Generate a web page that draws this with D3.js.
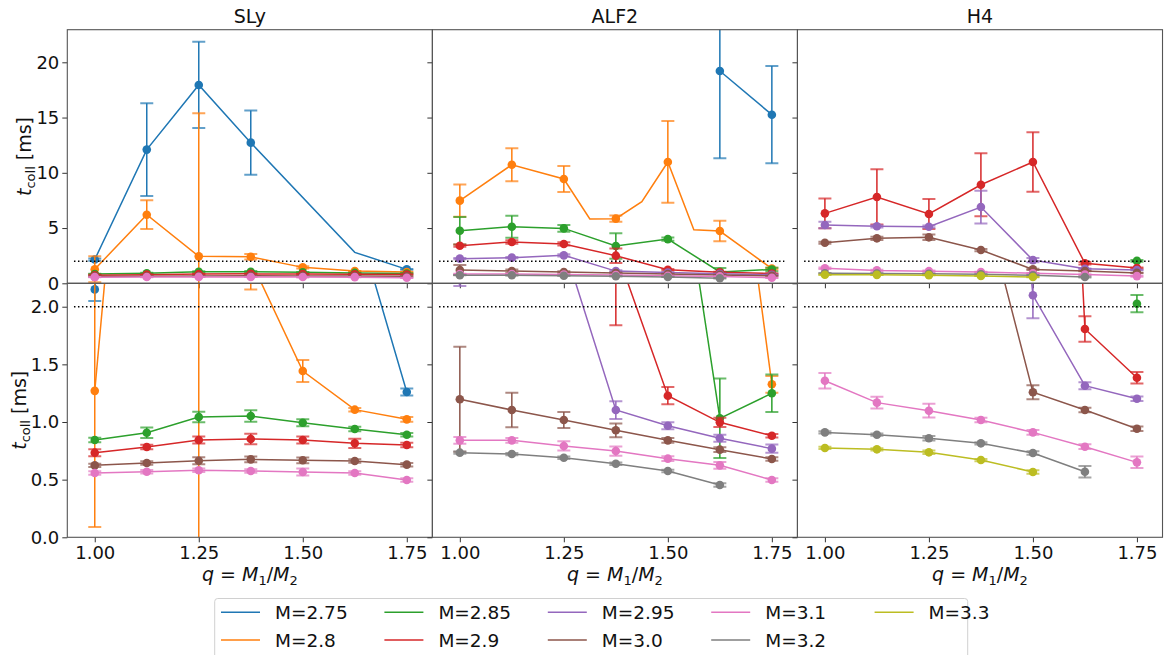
<!DOCTYPE html>
<html><head><meta charset="utf-8">
<script src="https://cdn.jsdelivr.net/npm/d3@7"></script>
<style>
html,body{margin:0;padding:0;background:#fff;}
svg{display:block;font-family:"DejaVu Sans",sans-serif;}
</style></head>
<body><svg id="chart" width="1164" height="655"></svg>
<script>
// ---------------- data ----------------
const Q = [1.0, 1.125, 1.25, 1.375, 1.5, 1.625, 1.75];
const masses = ["2.75", "2.8", "2.85", "2.9", "2.95", "3.0", "3.1", "3.2", "3.3"];
const colors = ["#1f77b4", "#ff7f0e", "#2ca02c", "#d62728", "#9467bd", "#8c564b", "#e377c2", "#7f7f7f", "#bcbd22"];
const eosNames = ["SLy", "ALF2", "H4"];
const xTicks = [1.0, 1.25, 1.5, 1.75];
const yTicksTop = [0, 5, 10, 15, 20];
const yTicksBottom = [0, 0.5, 1.0, 1.5, 2.0];
const threshold = 2.0;
const thresholdRange = [0.95, 1.78];

// each series: [mass, q values, t_coll values, error (null = no marker/error)]
const SLy = [
  ["2.75", [1.0, 1.125, 1.25, 1.375, 1.625, 1.75], [2.15, 12.1, 17.95, 12.73, 2.8, 1.26], [0.1, 4.2, 3.9, 2.9, null, 0.03]],
  ["2.8", Q, [1.27, 6.21, 2.44, 2.4, 1.442, 1.107, 1.023], [1.18, 1.3, 12.94, 0.25, 0.095, 0.015, 0.02]],
  ["2.85", Q, [0.844, 0.907, 1.043, 1.052, 0.994, 0.939, 0.89], [0.02, 0.045, 0.045, 0.05, 0.03, 0.02, 0.015]],
  ["2.9", Q, [0.734, 0.783, 0.844, 0.853, 0.844, 0.815, 0.80], [0.03, 0.02, 0.03, 0.045, 0.03, 0.04, 0.02]],
  ["3.0", Q, [0.624, 0.644, 0.664, 0.676, 0.668, 0.662, 0.63], [0.015, 0.015, 0.03, 0.025, 0.025, 0.015, 0.015]],
  ["3.1", Q, [0.558, 0.569, 0.581, 0.575, 0.566, 0.558, 0.497], [0.015, 0.015, 0.015, 0.015, 0.03, 0.015, 0.015]]
];
const ALF2 = [
  ["2.75", [1.625, 1.75], [19.21, 15.26], [7.9, 4.4]],
  ["2.8", [1.0, 1.125, 1.25, 1.3125, 1.375, 1.4375, 1.5, 1.5625, 1.625, 1.75],
          [7.48, 10.73, 9.44, 5.82, 5.85, 7.39, 10.98, 4.85, 4.73, 1.327],
          [1.45, 1.5, 1.17, null, 0.28, null, 3.7, null, 0.93, 0.073]],
  ["2.85", Q, [4.76, 5.12, 4.97, 3.38, 4.0, 1.032, 1.249], [1.25, 1.0, 0.3, 1.16, 0.15, 0.345, 0.163]],
  ["2.9", Q, [3.4, 3.74, 3.56, 2.5, 1.228, 0.997, 0.881], [0.1, 0.15, 0.15, 0.66, 0.075, 0.04, 0.015]],
  ["2.95", Q, [2.23, 2.32, 2.53, 1.104, 0.968, 0.859, 0.769], [0.05, 0.05, 0.1, 0.077, 0.03, 0.03, 0.035]],
  ["3.0", Q, [1.197, 1.104, 1.017, 0.928, 0.841, 0.76, 0.679], [0.456, 0.15, 0.07, 0.06, 0.02, 0.02, 0.015]],
  ["3.1", Q, [0.841, 0.841, 0.792, 0.748, 0.682, 0.624, 0.497], [0.03, 0.02, 0.04, 0.04, 0.02, 0.03, 0.015]],
  ["3.2", Q.slice(0, 6), [0.734, 0.722, 0.69, 0.638, 0.575, 0.454], [0.01, 0.01, 0.01, 0.01, 0.01, 0.015]]
];
const H4 = [
  ["2.85", [1.75], [2.026], [0.075]],
  ["2.9", Q, [6.33, 7.81, 6.27, 8.92, 10.98, 1.807, 1.384], [1.35, 2.5, 1.35, 2.85, 2.7, 0.11, 0.05]],
  ["2.95", Q, [5.28, 5.16, 5.12, 6.9, 2.099, 1.315, 1.202], [0.3, 0.1, 0.1, 1.48, 0.2, 0.03, 0.02]],
  ["3.0", Q, [3.67, 4.07, 4.16, 3.01, 1.258, 1.104, 0.942], [0.1, 0.15, 0.25, 0.1, 0.06, 0.02, 0.02]],
  ["3.1", Q, [1.358, 1.168, 1.098, 1.017, 0.91, 0.786, 0.65], [0.067, 0.05, 0.06, 0.02, 0.02, 0.02, 0.05]],
  ["3.2", Q.slice(0, 6), [0.91, 0.89, 0.859, 0.815, 0.731, 0.569], [0.01, 0.01, 0.02, 0.01, 0.015, 0.05]],
  ["3.3", Q.slice(0, 5), [0.775, 0.763, 0.737, 0.67, 0.566], [0.01, 0.01, 0.015, 0.01, 0.015]]
];
const allEos = [SLy, ALF2, H4];

// ---------------- layout ----------------
const svg = d3.select("#chart");
const panelLeft = 67.3, panelW = 365.07;
const rows = [
  {top: 29.7, bottom: 283.3, domain: [0, 22.95], ticks: yTicksTop, fmt: d3.format("d"), labelX: 30.5},
  {top: 283.3, bottom: 537.3, domain: [0, 2.203], ticks: yTicksBottom, fmt: d3.format(".1f"), labelX: 26}
];
const xDomain = [0.934, 1.8115];
const colorOf = m => colors[masses.indexOf(m)];
const FS = 18;

rows.forEach((row, r) => {
  eosNames.forEach((name, c) => {
    const x0 = panelLeft + c * panelW;
    const x = d3.scaleLinear().domain(xDomain).range([x0, x0 + panelW]);
    const y = d3.scaleLinear().domain(row.domain).range([row.bottom, row.top]);
    const id = `clip-${r}-${c}`;
    svg.append("clipPath").attr("id", id).append("rect")
      .attr("x", x0).attr("y", row.top).attr("width", panelW).attr("height", row.bottom - row.top);
    const g = svg.append("g").attr("clip-path", `url(#${id})`);

    allEos[c].forEach(([m, qs, ts, es]) => {
      const col = colorOf(m);
      const pts = qs.map((q, i) => ({q, t: ts[i], e: es[i]}));
      g.append("path").datum(pts)
        .attr("d", d3.line().x(d => x(d.q)).y(d => y(d.t)))
        .attr("fill", "none").attr("stroke", col).attr("stroke-width", 1.5);
      const ep = pts.filter(d => d.e !== null);
      g.selectAll(null).data(ep).enter().append("line")
        .attr("x1", d => x(d.q)).attr("x2", d => x(d.q))
        .attr("y1", d => y(d.t - d.e)).attr("y2", d => y(d.t + d.e))
        .attr("stroke", col).attr("stroke-width", 1.5);
      [-1, 1].forEach(s => {
        g.selectAll(null).data(ep).enter().append("line")
          .attr("x1", d => x(d.q) - 6.5).attr("x2", d => x(d.q) + 6.5)
          .attr("y1", d => y(d.t + s * d.e)).attr("y2", d => y(d.t + s * d.e))
          .attr("stroke", col).attr("stroke-width", 2).attr("stroke-opacity", 0.7);
      });
      g.selectAll(null).data(ep).enter().append("circle")
        .attr("cx", d => x(d.q)).attr("cy", d => y(d.t)).attr("r", 4.3)
        .attr("fill", col);
    });

    // threshold dotted line
    g.append("line")
      .attr("x1", x(thresholdRange[0])).attr("x2", x(thresholdRange[1]))
      .attr("y1", y(threshold)).attr("y2", y(threshold))
      .attr("stroke", "#000").attr("stroke-width", 1.5).attr("stroke-dasharray", "1.5,2.5");

    // axes
    const ya = svg.append("g").attr("transform", `translate(${x0},0)`)
      .call(d3.axisLeft(y).tickValues(row.ticks).tickSize(5).tickPadding(3)
        .tickFormat(c === 0 ? row.fmt : () => ""));
    const xa = svg.append("g").attr("transform", `translate(0,${row.bottom})`)
      .call(d3.axisBottom(x).tickValues(xTicks).tickSize(5).tickPadding(4)
        .tickFormat(r === 1 ? d3.format(".2f") : () => ""));
    [ya, xa].forEach(a => {
      a.select(".domain").remove();
      a.selectAll(".tick line").attr("stroke", "#333").attr("stroke-width", 1);
      a.selectAll(".tick text").attr("font-size", FS).attr("fill", "#111")
        .attr("font-family", "DejaVu Sans");
    });

    svg.append("rect").attr("x", x0).attr("y", row.top)
      .attr("width", panelW).attr("height", row.bottom - row.top)
      .attr("fill", "none").attr("stroke", "#555").attr("stroke-width", 1.1);

    if (r === 0) {
      svg.append("text").attr("x", x0 + panelW / 2).attr("y", 23.3)
        .attr("text-anchor", "middle").attr("font-size", 19).attr("fill", "#111").text(name);
    }
    if (r === 1) {
      const t = svg.append("text").attr("x", x0 + panelW / 2).attr("y", 581)
        .attr("text-anchor", "middle").attr("font-size", 19).attr("fill", "#111");
      t.append("tspan").attr("font-style", "italic").text("q");
      t.append("tspan").text(" = ");
      t.append("tspan").attr("font-style", "italic").text("M");
      t.append("tspan").attr("font-size", 13).attr("dy", 4).text("1");
      t.append("tspan").attr("dy", -4).text("/");
      t.append("tspan").attr("font-style", "italic").text("M");
      t.append("tspan").attr("font-size", 13).attr("dy", 4).text("2");
    }
    if (c === 0) {
      const cy = (row.top + row.bottom) / 2;
      const t = svg.append("text").attr("transform", `translate(${row.labelX},${cy}) rotate(-90)`)
        .attr("text-anchor", "middle").attr("font-size", 19).attr("fill", "#111");
      t.append("tspan").attr("font-style", "italic").text("t");
      t.append("tspan").attr("font-size", 13).attr("dy", 4).text("coll");
      t.append("tspan").attr("dy", -4).attr("dx", 6).text("[ms]");
    }
  });
});

// ---------------- legend ----------------
const leg = svg.append("g");
leg.append("rect").attr("x", 214.7).attr("y", 598.5).attr("width", 753).attr("height", 70)
  .attr("rx", 3).attr("fill", "#fff").attr("stroke", "#d0d0d0").attr("stroke-width", 1);
masses.forEach((m, i) => {
  const col = Math.floor(i / 2), rr = i % 2;
  const lx = 221 + col * 163.4, ly = 612.3 + rr * 27.7;
  leg.append("line").attr("x1", lx).attr("x2", lx + 39).attr("y1", ly).attr("y2", ly)
    .attr("stroke", colors[i]).attr("stroke-width", 1.5);
  leg.append("text").attr("x", lx + 54).attr("y", ly + 6.6).attr("font-size", 18.5)
    .attr("fill", "#111").text("M=" + m);
});
</script></body></html>
